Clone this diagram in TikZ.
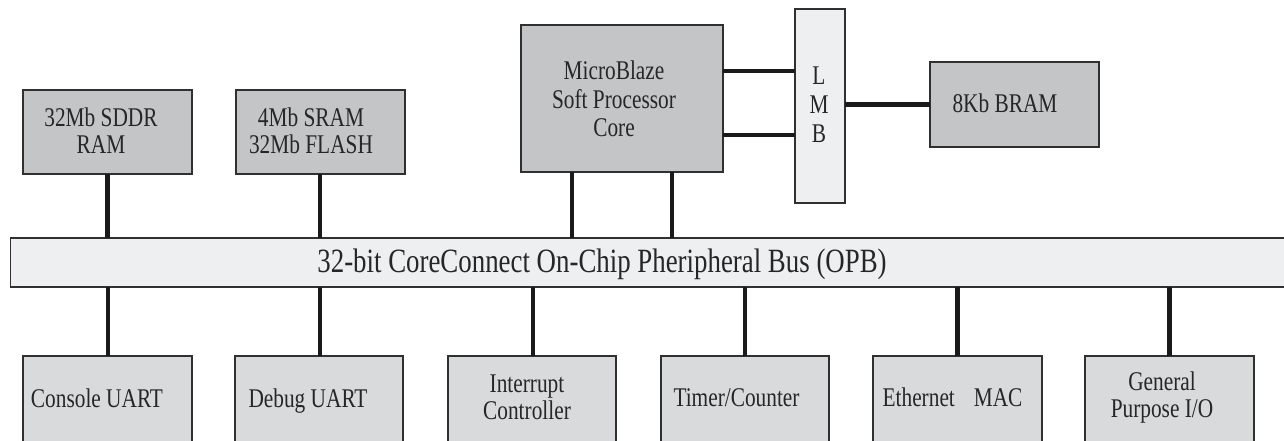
\documentclass[tikz,border=0pt]{standalone}
\usepackage{fontspec}
\setmainfont{Liberation Serif}[FakeStretch=0.79]
\definecolor{topgray}{HTML}{C4C5C7}
\definecolor{botgray}{HTML}{D9DADC}
\definecolor{busgray}{HTML}{EEEFF1}
\definecolor{edgec}{HTML}{303030}
\definecolor{wirec}{HTML}{1A1A1A}
\begin{document}
\begin{tikzpicture}[x=1pt,y=-1pt,
  boxbase/.style={draw=edgec, line width=1.8pt, rectangle, inner sep=0pt, outer sep=0pt},
  boxtop/.style={boxbase, fill=topgray},
  boxbot/.style={boxbase, fill=botgray},
  boxbus/.style={boxbase, fill=busgray},
  lbl/.style={font=\fontsize{27}{27}\selectfont, inner sep=0pt, align=center, text=black!85},
  wire/.style={draw=wirec, line width=4.3pt}
]
\useasboundingbox (0,0) rectangle (1284,440);
\clip (0,0) rectangle (1284,440);
\fill[white] (0,0) rectangle (1284,440);

% bus
\node[boxbus, minimum width=1285pt, minimum height=49pt] (bus) at (653,262.5) {};
\node[font=\fontsize{34}{34}\selectfont, inner sep=0pt, anchor=base, text=black!85] (busT) at (602,272) {32-bit CoreConnect On-Chip Pheripheral Bus (OPB)};

% top boxes
\node[boxtop, minimum width=169pt, minimum height=84pt] (sddr) at (107.5,132) {};
\node[boxtop, minimum width=169pt, minimum height=84pt] (sram) at (320.5,132) {};
\node[boxtop, minimum width=202pt, minimum height=147pt] (mb) at (622,98.5) {};
\node[boxbus, minimum width=50pt, minimum height=194pt] (lmb) at (820,106) {};
\node[boxtop, minimum width=169pt, minimum height=85pt] (bram) at (1014.5,104.5) {};

\node[lbl] (sddrT) at (101,131) {32Mb SDDR\\RAM};
\node[lbl] (sramT) at (311,131) {4Mb SRAM\\32Mb FLASH};
\node[lbl, font=\fontsize{27}{28.5}\selectfont] (mbT) at (614,99) {MicroBlaze\\Soft Processor\\Core};
\node[lbl, font=\fontsize{27}{29}\selectfont] (lmbT) at (819,105) {L\\M\\B};
\node[lbl] (bramT) at (1005,103.5) {8Kb BRAM};

% bottom boxes
\node[boxbot, minimum width=169pt, minimum height=92pt] (con) at (107.5,402) {};
\node[boxbot, minimum width=168pt, minimum height=92pt] (dbg) at (319,402) {};
\node[boxbot, minimum width=168pt, minimum height=92pt] (irq) at (532,402) {};
\node[boxbot, minimum width=168pt, minimum height=92pt] (tmr) at (745,402) {};
\node[boxbot, minimum width=169pt, minimum height=92pt] (eth) at (957.5,402) {};
\node[boxbot, minimum width=169pt, minimum height=92pt] (gpio) at (1169.5,402) {};

\node[lbl, anchor=base] (conT) at (97,407) {Console UART};
\node[lbl, anchor=base] (dbgT) at (308,407) {Debug UART};
\node[lbl] (irqT) at (527,397.5) {Interrupt\\Controller};
\node[lbl, anchor=base] (tmrT) at (736.5,406) {Timer/Counter};
\node[lbl, anchor=base] (ethT) at (952.5,406) {Ethernet\hspace{0.7em}MAC};
\node[lbl] (gpioT) at (1162,397.5) {General\\Purpose I/O};

% wires
\coordinate (mbA) at (572,172);
\coordinate (mbB) at (672,172);
\coordinate (mbR1) at (723,71);
\coordinate (mbR2) at (723,135);
\draw[wire] (sddr.south) -- (sddr.south |- bus.north);
\draw[wire] (sram.south -| 320,0) -- (bus.north -| 320,0);
\draw[wire] (mbA) -- (mbA |- bus.north);
\draw[wire] (mbB) -- (mbB |- bus.north);
\draw[wire] (mbR1) -- (mbR1 -| lmb.west);
\draw[wire] (mbR2) -- (mbR2 -| lmb.west);
\draw[wire] (lmb.east |- bram.west) -- (bram.west);
\draw[wire] (con.north -| 108,0) -- (bus.south -| 108,0);
\draw[wire] (dbg.north -| 320,0) -- (bus.south -| 320,0);
\draw[wire] (irq.north -| 533,0) -- (bus.south -| 533,0);
\draw[wire] (tmr.north) -- (tmr.north |- bus.south);
\draw[wire] (eth.north) -- (eth.north |- bus.south);
\draw[wire] (gpio.north) -- (gpio.north |- bus.south);
\end{tikzpicture}
\end{document}
